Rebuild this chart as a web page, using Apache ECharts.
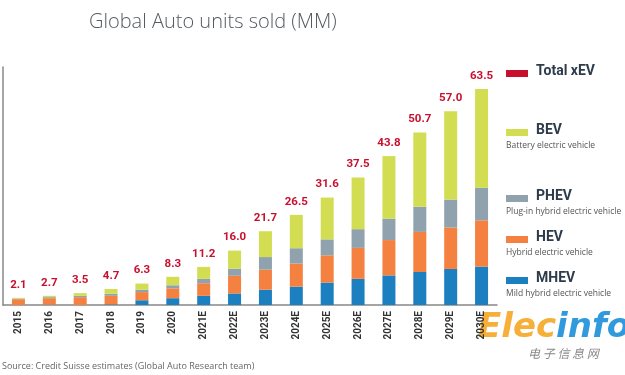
<!DOCTYPE html>
<html>
<head>
<meta charset="utf-8">
<script src="https://cdn.jsdelivr.net/npm/echarts@6.0.0/dist/echarts.min.js"></script>
<style>
	html, body { margin: 0; padding: 0; background: #fff; }
	#main { width: 625px; height: 375px; }
</style>
</head>
<body>
<div id="main"></div>
<script>
const years = ['2015', '2016', '2017', '2018', '2019', '2020', '2021E', '2022E', '2023E', '2024E', '2025E', '2026E', '2027E', '2028E', '2029E', '2030E']
const mhev = [0.0, 0.1, 0.0, 0.2, 1.4, 2.0, 2.7, 3.4, 4.5, 5.4, 6.6, 7.7, 8.7, 9.7, 10.6, 11.3]
const hev = [1.7, 1.9, 2.3, 2.5, 2.4, 2.9, 3.7, 5.2, 5.9, 6.8, 8.0, 9.1, 10.4, 11.8, 12.2, 13.6]
const phev = [0.2, 0.3, 0.4, 0.6, 0.7, 0.9, 1.3, 2.1, 3.7, 4.5, 4.7, 5.5, 6.3, 7.4, 8.2, 9.6]
const bev = [0.2, 0.4, 0.8, 1.4, 1.8, 2.5, 3.5, 5.3, 7.6, 9.8, 12.3, 15.2, 18.4, 21.8, 26.0, 29.0]
const totals = ['2.1', '2.7', '3.5', '4.7', '6.3', '8.3', '11.2', '16.0', '21.7', '26.5', '31.6', '37.5', '43.8', '50.7', '57.0', '63.5']

const colors = { mhev: '#1b7fc0', hev: '#f58140', phev: '#8fa2ad', bev: '#d3dd52', total: '#c8102e' }

var chart = echarts.init(document.getElementById('main'))

const seg = (name, data, color) => ({
	name, type: 'bar', stack: 'xev', data, barWidth: 13,
	itemStyle: { color },
	emphasis: { disabled: true },
})

const legendItems = [
	{ y: 73, name: 'Total xEV', color: colors.total },
	{ y: 132, name: 'BEV', sub: 'Battery electric vehicle', color: colors.bev },
	{ y: 198, name: 'PHEV', sub: 'Plug-in hybrid electric vehicle', color: colors.phev },
	{ y: 239, name: 'HEV', sub: 'Hybrid electric vehicle', color: colors.hev },
	{ y: 280, name: 'MHEV', sub: 'Mild hybrid electric vehicle', color: colors.mhev },
]
const legendGraphics = []
legendItems.forEach(it => {
	legendGraphics.push({ type: 'rect', left: 506, top: it.y - 3, shape: { width: 22, height: 7 }, style: { fill: it.color } })
	legendGraphics.push({ type: 'text', left: 536, top: it.y - 9, style: { text: it.name, fill: '#2e3b4a', font: 'bold 14px Roboto, sans-serif' } })
	if (it.sub) legendGraphics.push({ type: 'text', left: 506, top: it.y + 9, style: { text: it.sub, fill: '#555', font: '8.5px "Open Sans", sans-serif' } })
})

var option = {
	animation: false,
	title: {
		text: 'Global Auto units sold (MM)', left: 84, top: 7,
		textStyle: { fontFamily: 'Open Sans', fontWeight: 300, fontSize: 20, color: '#555a60' },
	},
	grid: { left: 3, right: 128, top: 67, bottom: 70 },
	xAxis: {
		type: 'category', data: years,
		axisLine: { lineStyle: { color: '#888', width: 1.5 } },
		axisTick: { show: false },
		axisLabel: { rotate: 90, interval: 0, margin: 6, color: '#333', fontWeight: 'bold', fontSize: 10, fontFamily: 'Roboto' },
	},
	yAxis: {
		type: 'value', min: 0, max: 70,
		axisLine: { show: true, lineStyle: { color: '#888', width: 1.5 } },
		axisTick: { show: false }, axisLabel: { show: false }, splitLine: { show: false },
	},
	series: [
		seg('MHEV', mhev, colors.mhev),
		seg('HEV', hev, colors.hev),
		seg('PHEV', phev, colors.phev),
		Object.assign(seg('BEV', bev, colors.bev), {
			label: {
				show: true, position: 'top', distance: 7,
				formatter: p => totals[p.dataIndex],
				color: colors.total, fontWeight: 'bold', fontSize: 11.5, fontFamily: 'Roboto',
			},
		}),
	],
	graphic: legendGraphics.concat([
		{ type: 'text', left: 2, top: 362, style: { text: 'Source: Credit Suisse estimates (Global Auto Research team)', fill: '#666', font: '9px "Open Sans", sans-serif' } },
		{ type: 'text', left: 478, top: 311, style: { text: '{a|Elec}{b|info}', opacity: 0.9, rich: { a: { fill: '#f5a623', font: 'italic bold 34px "DejaVu Sans", sans-serif' }, b: { fill: '#1a8fd8', font: 'italic bold 34px "DejaVu Sans", sans-serif' } } } },
		{ type: 'text', left: 528, top: 347, style: { text: '电 子 信 息 网', fill: '#888', font: 'italic 12px "Noto Sans CJK SC", sans-serif' } },
	]),
}

chart.setOption(option)
</script>
</body>
</html>
